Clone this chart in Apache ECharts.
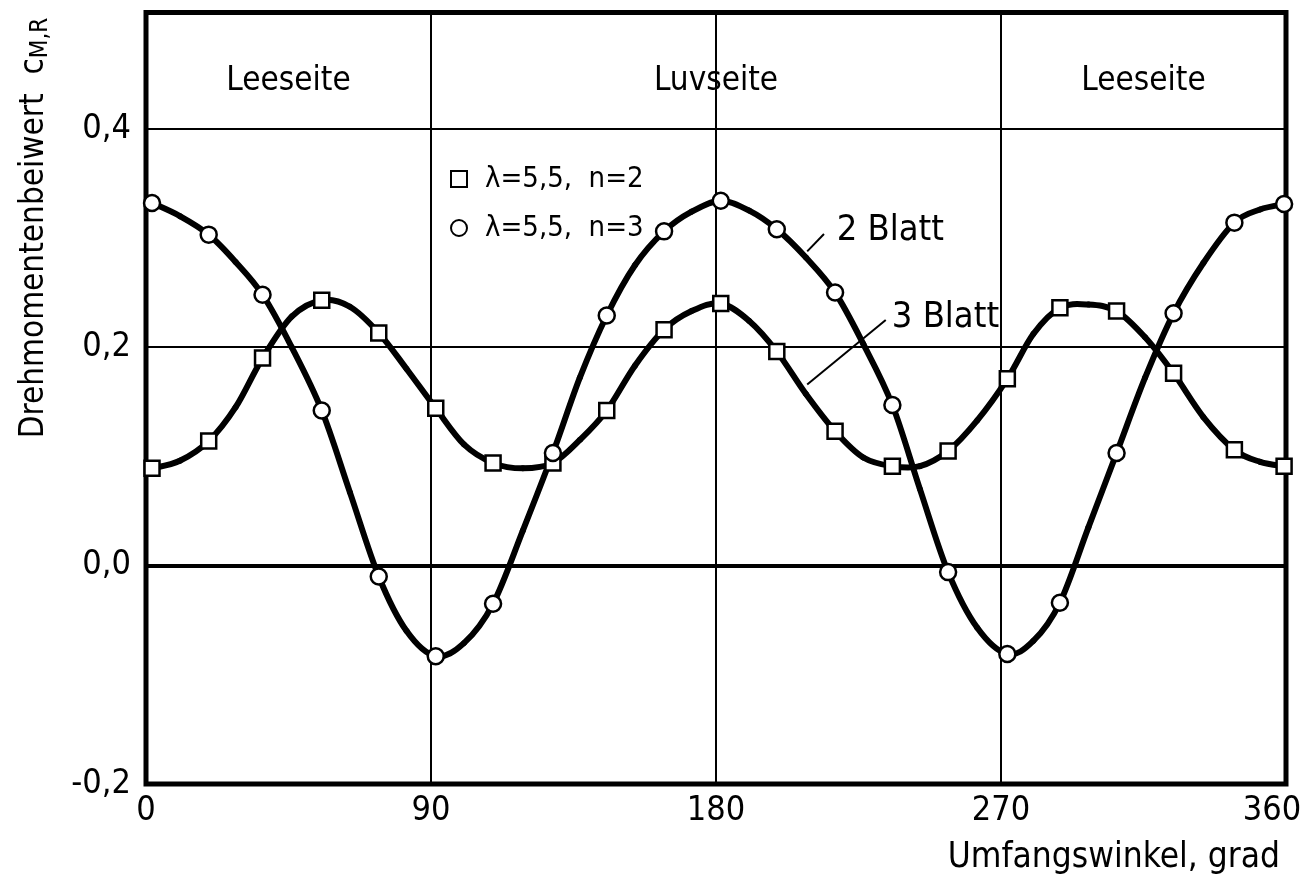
<!DOCTYPE html>
<html>
<head>
<meta charset="utf-8">
<script src="https://cdn.jsdelivr.net/npm/echarts@6/dist/echarts.min.js"></script>
<style>
html,body{margin:0;padding:0;background:#fff;}
#chart{width:1310px;height:890px;}
</style>
</head>
<body>
<div id="chart"></div>
<script>
const angles = [1.9, 19.8, 36.8, 55.5, 73.5, 91.5, 109.6, 128.5, 145.5, 163.6, 181.5, 199.2, 217.6, 235.7, 253.3, 272.0, 288.6, 306.5, 324.5, 343.7, 359.4];
const cmN2 = [0.089, 0.114, 0.190, 0.243, 0.213, 0.144, 0.094, 0.094, 0.142, 0.216, 0.240, 0.196, 0.123, 0.091, 0.105, 0.171, 0.236, 0.233, 0.176, 0.106, 0.091];
const cmN3 = [0.332, 0.303, 0.248, 0.142, -0.010, -0.083, -0.035, 0.103, 0.229, 0.306, 0.334, 0.308, 0.250, 0.147, -0.006, -0.081, -0.034, 0.103, 0.231, 0.314, 0.331];

// ---- drawn curves at markers and half-way between them ----
const curveAngles = [1.9, 10.7, 19.8, 28.3, 36.8, 46.0, 55.5, 64.4, 73.5, 82.3, 91.5, 100.4, 109.6, 119.0, 128.5, 137.0, 145.5, 154.4, 163.6, 172.3, 181.5, 190.5, 199.2, 208.4, 217.6, 226.5, 235.7, 244.4, 253.3, 262.5, 272.0, 280.2, 288.6, 297.6, 306.5, 315.5, 324.5, 333.9, 343.7, 351.8, 359.4];
const curveN2 = [0.089, 0.096, 0.114, 0.145, 0.190, 0.228, 0.243, 0.237, 0.213, 0.180, 0.144, 0.111, 0.094, 0.089, 0.094, 0.115, 0.142, 0.183, 0.216, 0.233, 0.240, 0.224, 0.196, 0.157, 0.123, 0.099, 0.091, 0.091, 0.105, 0.133, 0.171, 0.212, 0.236, 0.239, 0.233, 0.209, 0.176, 0.136, 0.106, 0.095, 0.091];
const curveN3 = [0.332, 0.320, 0.303, 0.278, 0.248, 0.200, 0.142, 0.067, -0.010, -0.060, -0.083, -0.071, -0.035, 0.032, 0.103, 0.172, 0.229, 0.275, 0.306, 0.324, 0.334, 0.325, 0.308, 0.282, 0.250, 0.203, 0.147, 0.070, -0.006, -0.057, -0.081, -0.069, -0.034, 0.035, 0.103, 0.172, 0.231, 0.277, 0.314, 0.326, 0.331];

const seriesNames = ['λ=5,5,  n=2', 'λ=5,5,  n=3'];
const xTicks = [0, 90, 180, 270, 360];
const yTicks = [-0.2, 0.0, 0.2, 0.4];
const regionLabels = ['Leeseite', 'Luvseite', 'Leeseite'];
const regionCenters = [45, 180, 315];
const curveLabels = ['2 Blatt', '3 Blatt'];

const FONT = "'Liberation Sans Narrow', 'DejaVu Sans Condensed', sans-serif";
const fmtY = v => {
  const r = Math.round(v * 10) / 10;
  return (r < 0 ? '-' : '') + Math.abs(r).toFixed(1).replace('.', ',');
};
const pairs = (xs, ys) => xs.map((a, i) => [a, ys[i]]);

// smooth curve: each data item draws the Catmull-Rom segment to the next item,
// positioned with the chart's own coordinate conversion (api.coord)
function curveRenderer(xs, ys) {
  return function (params, api) {
    const i = params.dataIndex;
    const n = xs.length;
    if (i >= n - 1) return null;
    const P = j => api.coord([xs[Math.max(0, Math.min(n - 1, j))], ys[Math.max(0, Math.min(n - 1, j))]]);
    const p0 = P(i - 1), p1 = P(i), p2 = P(i + 1), p3 = P(i + 2);
    const k = 1 / 6;
    return {
      type: 'bezierCurve',
      shape: {
        x1: p1[0], y1: p1[1], x2: p2[0], y2: p2[1],
        cpx1: p1[0] + (p2[0] - p0[0]) * k, cpy1: p1[1] + (p2[1] - p0[1]) * k,
        cpx2: p2[0] - (p3[0] - p1[0]) * k, cpy2: p2[1] - (p3[1] - p1[1]) * k
      },
      style: {stroke: '#000', lineWidth: 6, fill: null, lineCap: 'round'},
      silent: true
    };
  };
}

const chart = echarts.init(document.getElementById('chart'), null, {renderer: 'canvas'});

const regionY = 0.443;
const option = {
  animation: false,
  backgroundColor: '#fff',
  textStyle: {fontFamily: FONT, color: '#000'},
  grid: {left: 146, right: 24, top: 12.5, bottom: 106, show: true, borderColor: '#000', borderWidth: 5,
    backgroundColor: 'transparent', containLabel: false, outerBoundsMode: 'none'},
  xAxis: {
    type: 'value', min: 0, max: 360, interval: 90,
    axisLine: {show: false}, axisTick: {show: false},
    splitLine: {show: true, lineStyle: {color: '#000', width: 2}},
    axisLabel: {fontSize: 34, fontFamily: FONT, color: '#000', margin: 10,
      formatter: v => !xTicks.includes(v) ? '' : (v === 360 ? '{r|360}' : String(v)),
      rich: {r: {fontSize: 34, fontFamily: FONT, color: '#000', padding: [0, 28, 0, 0]}}}
  },
  yAxis: {
    type: 'value', min: -0.2, max: 0.5064, interval: 0.2,
    axisLine: {show: false}, axisTick: {show: false},
    splitLine: {show: true, lineStyle: {color: '#000', width: 2}},
    axisLabel: {fontSize: 34, fontFamily: FONT, color: '#000', margin: 15, showMaxLabel: false,
      formatter: v => yTicks.some(t => Math.abs(t - v) < 1e-6) ? fmtY(v) : ''}
  },
  legend: {
    orient: 'vertical', left: 445, top: 158, itemWidth: 16, itemHeight: 16, itemGap: 17,
    selectedMode: false,
    data: [{name: seriesNames[0], icon: 'rect'}, {name: seriesNames[1], icon: 'circle'}],
    textStyle: {fontSize: 29, fontFamily: FONT, color: '#000', lineHeight: 32, padding: [0, 0, 0, 13]},
    itemStyle: {color: '#fff', borderColor: '#000', borderWidth: 2}
  },
  series: [
    {
      name: 'curve n=2', type: 'custom', coordinateSystem: 'cartesian2d', clip: true, silent: true, z: 3,
      encode: {x: 0, y: 1},
      data: pairs(curveAngles, curveN2),
      renderItem: curveRenderer(curveAngles, curveN2),
      markLine: {
        silent: true, z: 1, symbol: ['none', 'none'], label: {show: false},
        lineStyle: {color: '#000', width: 2, type: 'solid'},
        emphasis: {disabled: true},
        data: [
          {yAxis: 0, lineStyle: {color: '#000', width: 4, type: 'solid'}},
          [{coord: [208.8, 0.2877]}, {coord: [214.1, 0.3036]}],
          [{coord: [208.8, 0.1657]}, {coord: [233.6, 0.2249]}]
        ]
      },
      markPoint: {
        silent: true, symbol: 'circle', symbolSize: 0,
        label: {show: true, color: '#000', fontFamily: FONT, fontSize: 33, formatter: p => p.name},
        data: [
          ...regionLabels.map((t, i) => ({name: t, coord: [regionCenters[i], regionY], label: {position: 'inside'}})),
          {name: curveLabels[0], coord: [218.1, 0.3066], label: {position: 'right', distance: 0, fontSize: 36}},
          {name: curveLabels[1], coord: [235.5, 0.2273], label: {position: 'right', distance: 0, fontSize: 36}}
        ]
      }
    },
    {
      name: 'curve n=3', type: 'custom', coordinateSystem: 'cartesian2d', clip: true, silent: true, z: 3,
      encode: {x: 0, y: 1},
      data: pairs(curveAngles, curveN3),
      renderItem: curveRenderer(curveAngles, curveN3)
    },
    {
      name: seriesNames[0], type: 'scatter', symbol: 'rect', symbolSize: 15, z: 10, silent: true,
      data: pairs(angles, cmN2), itemStyle: {color: '#fff', borderColor: '#000', borderWidth: 2.5, opacity: 1}
    },
    {
      name: seriesNames[1], type: 'scatter', symbol: 'circle', symbolSize: 16, z: 10, silent: true,
      data: pairs(angles, cmN3), itemStyle: {color: '#fff', borderColor: '#000', borderWidth: 2.5, opacity: 1}
    }
  ],
  graphic: [
    {
      type: 'text', x: 34, y: 228, rotation: Math.PI / 2, silent: true,
      style: {
        text: '{m|Drehmomentenbeiwert  c}{s|M,R}',
        rich: {
          m: {fontSize: 33, fontFamily: FONT, lineHeight: 38, fill: '#000'},
          s: {fontSize: 24, fontFamily: FONT, lineHeight: 12, verticalAlign: 'bottom', fill: '#000'}
        },
        fill: '#000', align: 'center', verticalAlign: 'middle', textAlign: 'center', textVerticalAlign: 'middle'
      }
    },
    {
      type: 'text', x: 1280, y: 858, silent: true,
      style: {
        text: 'Umfangswinkel, grad', font: '35px ' + FONT, fill: '#000',
        align: 'right', verticalAlign: 'middle', textAlign: 'right', textVerticalAlign: 'middle'
      }
    }
  ]
};
chart.setOption(option);
</script>
</body>
</html>
